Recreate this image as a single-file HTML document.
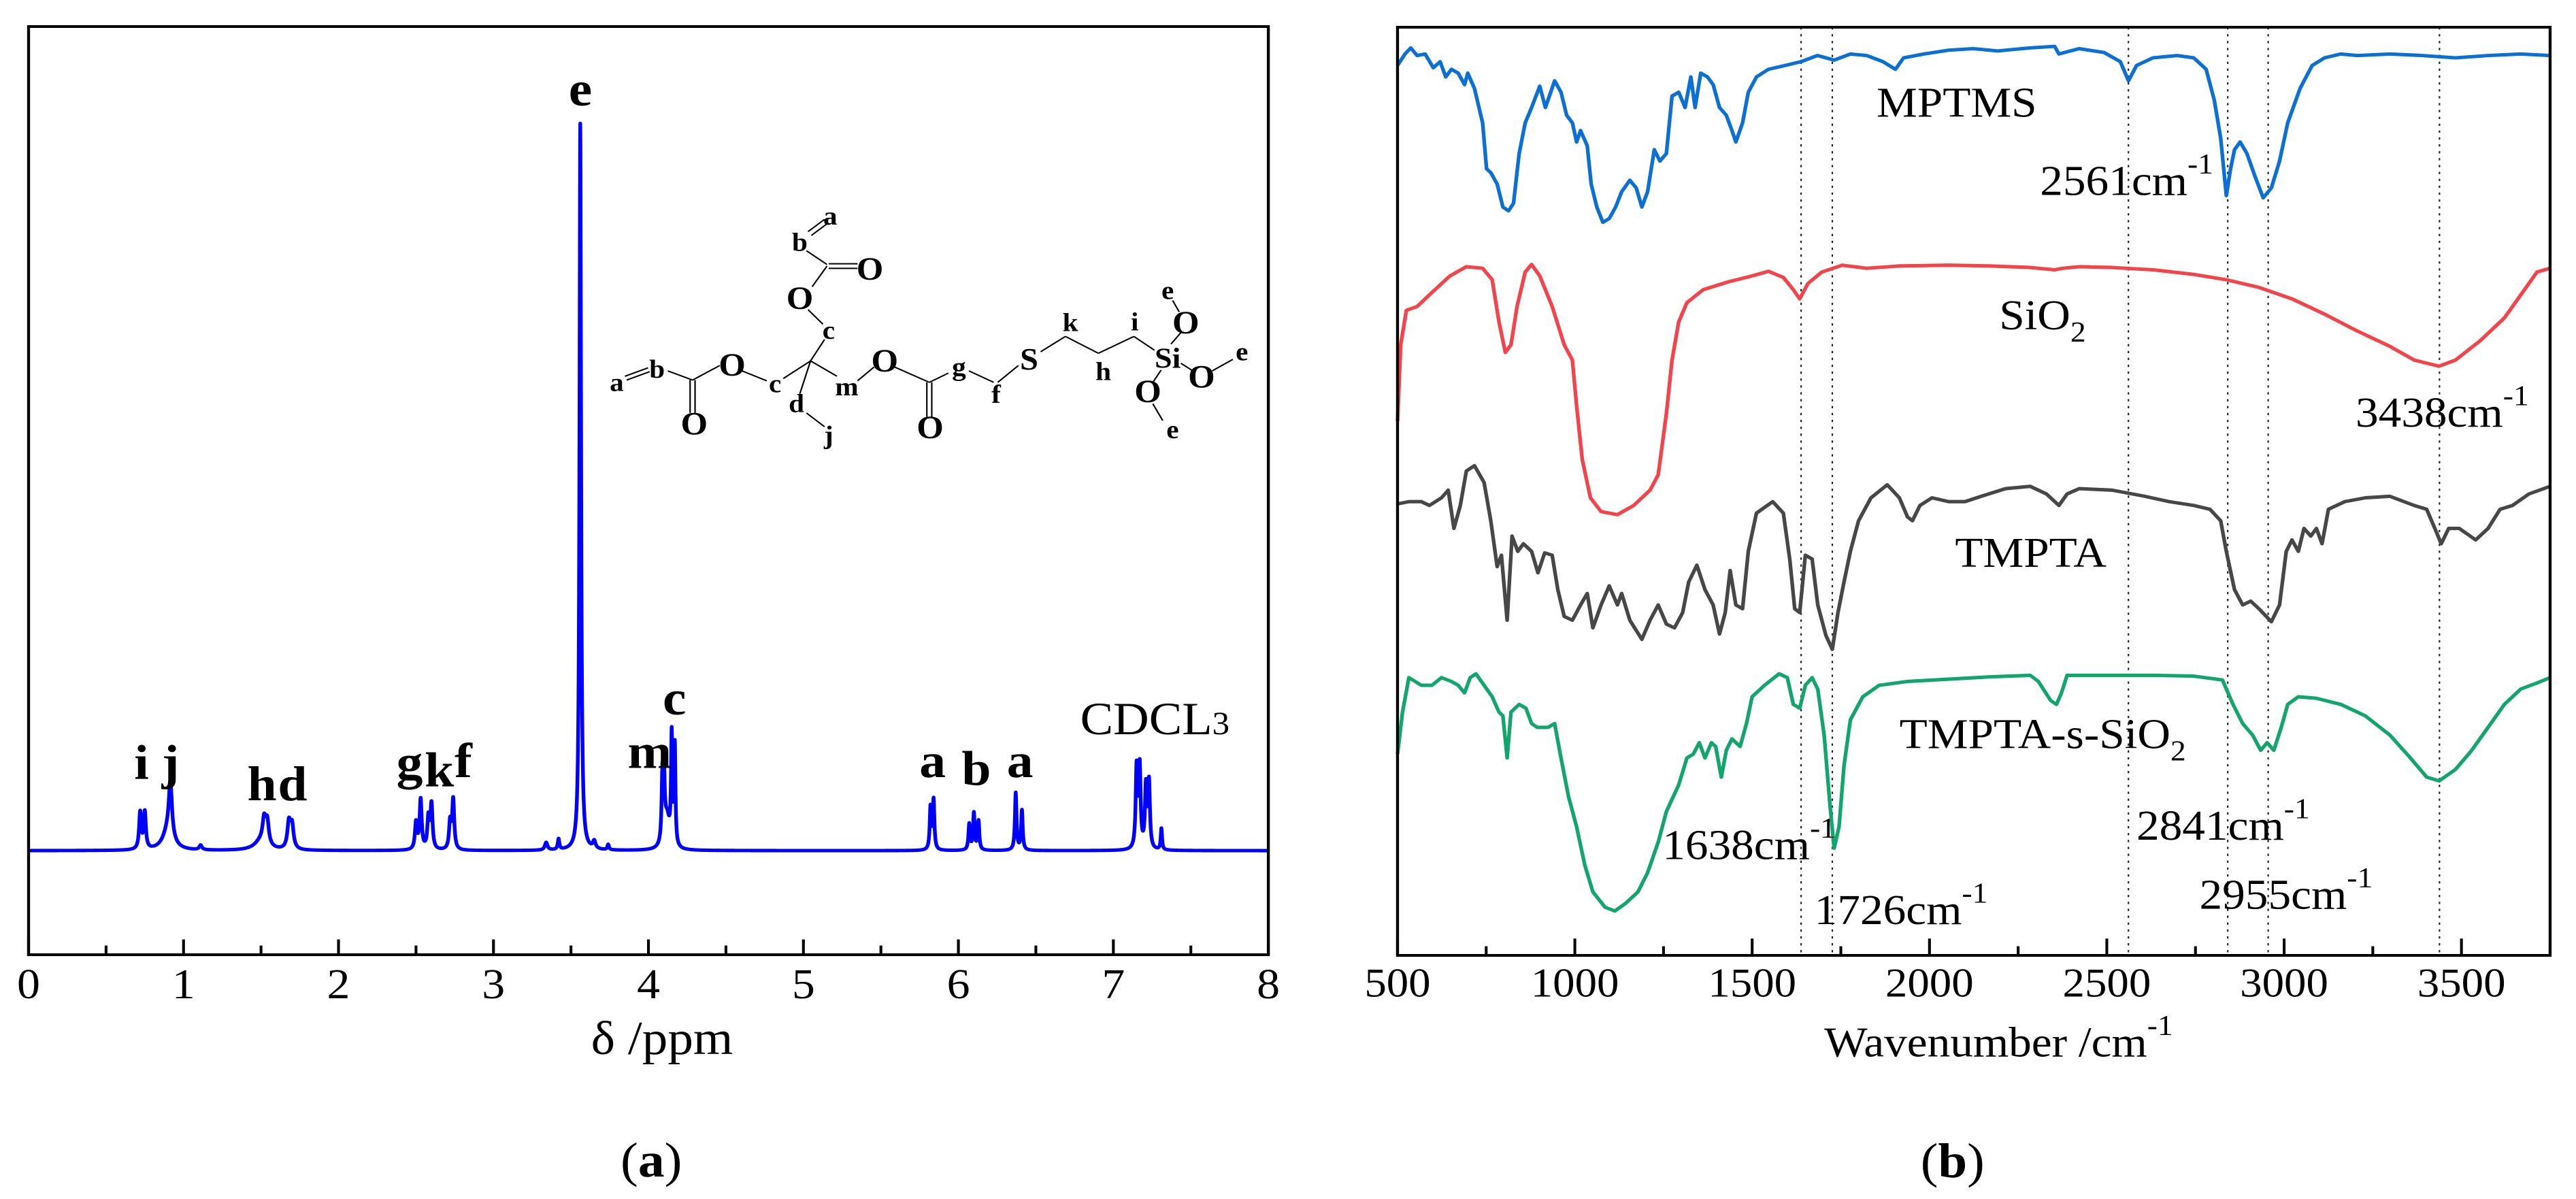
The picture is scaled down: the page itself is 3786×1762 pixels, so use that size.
<!DOCTYPE html>
<html><head><meta charset="utf-8"><title>NMR and FTIR spectra</title>
<style>
html,body{margin:0;padding:0;background:#fff;}
svg{display:block;}
text{font-family:"Liberation Serif","DejaVu Serif",serif;}
</style></head>
<body>
<svg id="fig" width="3786" height="1762" viewBox="0 0 3786 1762" xmlns="http://www.w3.org/2000/svg">
<rect width="3786" height="1762" fill="#fff"/>
<g id="left" transform="matrix(1.2123,0,0,1.1245,-0.43,-0.36)">
  <g id="nmrTicks"></g>
  <path id="nmrLine" fill="none" stroke="#0000ff" stroke-width="4.5" stroke-linejoin="round"/>
  <rect x="35" y="35" width="1503" height="1213" fill="none" stroke="#000" stroke-width="3.6"/>
  <g font-weight="bold" font-size="64" text-anchor="middle">
    <text x="704" y="138">e</text>
    <text x="172" y="1018">i</text>
    <text x="207" y="1018">j</text>
    <text x="318" y="1046">h</text>
    <text x="355" y="1046">d</text>
    <text x="497" y="1018">g</text>
    <text x="533" y="1028">k</text>
    <text x="562" y="1016">f</text>
    <text x="788" y="1004">m</text>
    <text x="818" y="934">c</text>
    <text x="1131" y="1016">a</text>
    <text x="1184" y="1026">b</text>
    <text x="1237" y="1016">a</text>
  </g>
  <text x="1310" y="960" font-size="60">CDCL<tspan font-size="42">3</tspan></text>
  <g stroke="#000" stroke-width="1.8" fill="none">
    <line x1="980" y1="303" x2="1000" y2="287"/><line x1="984" y1="308" x2="1004" y2="292"/>
    <line x1="978" y1="328" x2="1003" y2="346"/>
    <line x1="1005" y1="345" x2="1040" y2="345"/><line x1="1005" y1="351" x2="1040" y2="351"/>
    <line x1="1003" y1="348" x2="985" y2="375"/>
    <line x1="980" y1="405" x2="998" y2="424"/>
    <line x1="1000" y1="444" x2="983" y2="472"/>
    <line x1="758" y1="492" x2="786" y2="481"/><line x1="760" y1="497" x2="788" y2="486"/>
    <line x1="810" y1="485" x2="840" y2="497"/>
    <line x1="837" y1="497" x2="837" y2="540"/><line x1="843" y1="497" x2="843" y2="540"/>
    <line x1="840" y1="497" x2="873" y2="478"/>
    <line x1="900" y1="485" x2="930" y2="498"/>
    <line x1="950" y1="495" x2="983" y2="472"/>
    <line x1="983" y1="472" x2="970" y2="515"/>
    <line x1="978" y1="540" x2="1000" y2="558"/>
    <line x1="983" y1="472" x2="1015" y2="492"/>
    <line x1="1040" y1="498" x2="1060" y2="480"/>
    <line x1="1085" y1="480" x2="1127" y2="500"/>
    <line x1="1124" y1="500" x2="1124" y2="545"/><line x1="1130" y1="500" x2="1130" y2="545"/>
    <line x1="1127" y1="500" x2="1150" y2="488"/>
    <line x1="1175" y1="485" x2="1205" y2="500"/>
    <line x1="1210" y1="500" x2="1235" y2="478"/>
    <line x1="1262" y1="460" x2="1292" y2="440"/>
    <line x1="1292" y1="440" x2="1332" y2="462"/>
    <line x1="1332" y1="462" x2="1375" y2="440"/>
    <line x1="1375" y1="440" x2="1400" y2="458"/>
    <line x1="1420" y1="450" x2="1432" y2="435"/>
    <line x1="1430" y1="408" x2="1422" y2="393"/>
    <line x1="1432" y1="475" x2="1448" y2="486"/>
    <line x1="1470" y1="485" x2="1495" y2="470"/>
    <line x1="1408" y1="484" x2="1398" y2="500"/>
    <line x1="1398" y1="528" x2="1410" y2="550"/>
  </g>
  <g font-weight="bold" text-anchor="middle" font-size="34">
    <text x="1007" y="294">a</text><text x="970" y="328">b</text>
    <text x="1055" y="366" font-size="42">O</text><text x="970" y="404" font-size="42">O</text>
    <text x="1005" y="443">c</text>
    <text x="748" y="511">a</text><text x="797" y="494">b</text>
    <text x="842" y="568" font-size="42">O</text><text x="888" y="491" font-size="42">O</text>
    <text x="940" y="513">c</text><text x="966" y="539">d</text><text x="1005" y="580">j</text>
    <text x="1027" y="517">m</text><text x="1073" y="486" font-size="42">O</text>
    <text x="1128" y="573" font-size="42">O</text><text x="1163" y="491">g</text>
    <text x="1208" y="527">f</text><text x="1248" y="483" font-size="40">S</text>
    <text x="1298" y="433">k</text><text x="1338" y="497">h</text><text x="1376" y="432">i</text>
    <text x="1416" y="481" font-size="38">Si</text>
    <text x="1438" y="436" font-size="42">O</text><text x="1416" y="391">e</text>
    <text x="1457" y="507" font-size="42">O</text><text x="1506" y="471">e</text>
    <text x="1392" y="526" font-size="42">O</text><text x="1422" y="573">e</text>
  </g>
  <text x="803" y="1378" font-size="62" text-anchor="middle">δ /ppm</text>
  <text x="790" y="1538" font-size="64" text-anchor="middle">(<tspan font-weight="bold">a</tspan>)</text>
</g>

<g id="right" transform="matrix(1.2014,0,0,1.1245,1902.6,0.64)">
  <g id="irRefs"></g>
  <g id="irLines"></g>
  <g id="irTicks"></g>
  <rect x="126" y="35" width="1410" height="1213" fill="none" stroke="#000" stroke-width="3.6"/>
  <g font-size="56">
    <text x="712" y="152">MPTMS</text>
    <text x="912" y="254">2561cm<tspan font-size="38" dy="-28">-1</tspan></text>
    <text x="862" y="430">SiO<tspan font-size="38" dy="16">2</tspan></text>
    <text x="1298" y="557">3438cm<tspan font-size="38" dy="-28">-1</tspan></text>
    <text x="808" y="740">TMPTA</text>
    <text x="740" y="977">TMPTA-s-SiO<tspan font-size="38" dy="16">2</tspan></text>
    <text x="450" y="1122">1638cm<tspan font-size="38" dy="-28">-1</tspan></text>
    <text x="636" y="1207">1726cm<tspan font-size="38" dy="-28">-1</tspan></text>
    <text x="1030" y="1097">2841cm<tspan font-size="38" dy="-28">-1</tspan></text>
    <text x="1107" y="1187">2955cm<tspan font-size="38" dy="-28">-1</tspan></text>
  </g>
  <text x="648" y="1380" font-size="56">Wavenumber /cm<tspan font-size="38" dy="-28">-1</tspan></text>
  <text x="805" y="1538" font-size="64" text-anchor="middle">(<tspan font-weight="bold">b</tspan>)</text>
</g>
</svg>
<script>
// ---------- NMR data ----------
const nmrPeakPpm =   [0.72,0.75,0.915,0.90,1.11,1.52,1.54,1.50,1.68,1.70,2.50,2.53,2.58,2.60,2.72,2.74,3.34,3.42,3.56,3.65,3.74,4.09,4.10,4.12,4.15,4.17,5.82,5.84,6.07,6.10,6.13,6.37,6.41,7.15,7.17,7.21,7.23,7.31];
const nmrPeakHeight= [48,48,70,25,6,30,30,12,34,30,35,65,40,58,35,65,10,14,950,10,7,80,80,40,140,130,55,65,34,48,38,75,52,105,105,80,86,28];
const nmrPeakWidth = [0.008,0.008,0.012,0.04,0.01,0.012,0.012,0.05,0.012,0.012,0.008,0.008,0.008,0.008,0.008,0.008,0.01,0.006,0.006,0.01,0.006,0.006,0.006,0.02,0.005,0.005,0.006,0.006,0.006,0.006,0.006,0.006,0.006,0.007,0.007,0.007,0.007,0.005];
const nmrTickLabels = ["0","1","2","3","4","5","6","7","8"];
const nmrDomain = [0,8];

// ---------- FTIR data ----------
const irTickLabels = ["500","1000","1500","2000","2500","3000","3500"];
const irRefWavenumbers = [1638,1726,2561,2841,2955,3438];
const mptmsWn = [500,521,537,555,578,601,620,636,652,671,689,698,717,740,751,763,781,797,813,827,843,860,878,901,917,943,961,977,993,1005,1016,1035,1046,1062,1079,1097,1115,1132,1155,1173,1189,1205,1224,1240,1258,1274,1293,1311,1327,1339,1355,1374,1390,1408,1427,1443,1454,1473,1489,1512,1546,1593,1638,1684,1731,1777,1823,1869,1904,1927,1984,2054,2123,2192,2284,2353,2365,2422,2492,2538,2561,2584,2630,2699,2745,2780,2803,2821,2837,2849,2860,2876,2895,2918,2941,2964,2987,3010,3045,3079,3114,3160,3206,3298,3390,3483,3575,3667,3750];
const mptmsT = [1163,1178,1186,1176,1178,1160,1168,1148,1158,1153,1138,1153,1133,1088,1028,1023,1008,978,973,983,1048,1088,1108,1136,1108,1143,1128,1098,1088,1063,1078,1058,1008,978,958,963,978,998,1013,1003,978,998,1053,1038,1048,1123,1128,1108,1148,1108,1153,1148,1138,1108,1098,1078,1063,1088,1128,1148,1158,1163,1168,1176,1170,1178,1176,1168,1158,1173,1178,1183,1185,1182,1186,1188,1178,1185,1180,1168,1143,1163,1173,1176,1173,1158,1118,1068,993,1028,1053,1063,1048,1018,990,1003,1038,1088,1133,1163,1173,1178,1176,1178,1176,1173,1176,1178,1176];
const sio2Wn = [500,509,525,555,601,648,694,740,767,786,804,820,837,860,878,901,936,970,993,1005,1021,1044,1074,1120,1166,1212,1235,1258,1274,1293,1316,1362,1431,1500,1546,1588,1616,1634,1657,1696,1754,1823,1915,2054,2169,2284,2353,2376,2422,2515,2630,2745,2837,2929,3022,3114,3206,3298,3367,3437,3483,3552,3621,3667,3713,3750];
const sio2T = [698,798,843,848,868,888,900,898,883,828,788,798,848,893,903,888,848,798,778,718,648,598,580,576,588,608,628,708,778,828,853,870,880,888,894,886,870,858,878,893,902,898,901,902,901,899,896,898,900,899,896,890,883,873,858,838,816,796,778,770,778,803,833,863,893,898];
const tmptaWn = [500,532,567,590,624,643,659,677,694,717,744,763,781,793,809,823,839,855,878,896,915,936,952,970,993,1016,1035,1051,1074,1097,1120,1132,1155,1189,1212,1235,1258,1281,1304,1321,1344,1367,1390,1408,1424,1438,1454,1473,1489,1512,1558,1588,1606,1620,1634,1650,1669,1685,1708,1726,1742,1759,1777,1800,1835,1881,1915,1938,1952,1973,2007,2054,2100,2146,2215,2284,2330,2365,2388,2422,2515,2607,2676,2745,2791,2821,2837,2860,2883,2906,2929,2964,2987,3006,3022,3040,3056,3075,3091,3107,3125,3171,3229,3298,3367,3402,3425,3443,3464,3494,3540,3575,3609,3644,3690,3750];
const tmptaT = [590,593,593,588,598,608,558,588,633,640,618,568,508,523,438,548,528,538,528,500,526,523,478,443,438,458,473,428,458,483,458,473,438,413,438,458,433,428,448,488,510,478,458,420,448,503,458,453,528,578,593,578,518,453,448,523,518,458,418,400,448,488,528,568,598,615,598,573,568,588,598,593,593,600,610,613,603,588,603,610,608,600,593,588,583,568,528,478,458,463,453,436,458,528,543,528,558,548,558,538,583,593,598,600,588,583,558,538,558,558,543,558,583,588,603,613];
const compWn = [500,514,532,567,597,624,652,671,689,705,721,744,767,786,797,809,820,843,862,878,894,924,943,959,982,1005,1028,1051,1085,1113,1143,1178,1205,1235,1258,1293,1316,1334,1351,1367,1385,1397,1413,1427,1443,1466,1484,1500,1535,1576,1599,1616,1634,1650,1669,1685,1703,1719,1731,1745,1759,1777,1812,1858,1938,2054,2169,2284,2307,2342,2358,2372,2388,2515,2630,2745,2826,2856,2883,2911,2934,2952,2971,2992,3010,3040,3091,3160,3229,3298,3356,3402,3437,3483,3529,3575,3621,3667,3713,3750];
const compT = [263,318,363,353,353,363,358,353,343,363,368,353,338,318,313,258,318,328,323,303,298,298,303,263,208,168,118,83,63,58,68,83,108,148,188,223,258,263,278,258,278,273,233,268,283,273,303,338,353,368,363,328,323,353,363,348,288,198,140,168,248,308,338,353,358,361,364,366,358,333,328,343,366,366,366,365,360,328,303,288,268,278,268,298,328,338,336,328,313,288,258,233,228,243,268,298,328,348,356,363];
const irSeriesNames = ["mptms","sio2","tmpta","tmpta-s-sio2"];
const irSeriesColors = ["#0b6fd4","#f2444a","#474747","#12a56c"];
const irDomain = [500,3750];

const NS="http://www.w3.org/2000/svg";
function mk(tag,attrs,parent){const e=document.createElementNS(NS,tag);for(const k in attrs)e.setAttribute(k,attrs[k]);parent.appendChild(e);return e;}

// NMR axes
const nxL=35,nxR=1538,nyBase=1112,nyBottom=1248;
function nmrX(p){return nxL+(p-nmrDomain[0])/(nmrDomain[1]-nmrDomain[0])*(nxR-nxL);}
function nmrY(h){return nyBase-h;}
let d="";
for(let i=0;i<=8000;i++){
  const p=nmrDomain[0]+i*(nmrDomain[1]-nmrDomain[0])/8000;
  let s=0;
  for(let k=0;k<nmrPeakPpm.length;k++){const w=nmrPeakWidth[k],dx=p-nmrPeakPpm[k];s+=nmrPeakHeight[k]*w*w/(dx*dx+w*w);}
  d+=(i?"L":"M")+nmrX(p).toFixed(2)+" "+nmrY(s).toFixed(2);
}
document.getElementById('nmrLine').setAttribute('d',d);
const nt=document.getElementById('nmrTicks');
for(let i=0;i<=16;i++){
  const v=nmrDomain[0]+i*0.5, x=nmrX(v), major=i%2===0;
  const t=mk('line',{x1:x,x2:x,y1:nyBottom,y2:nyBottom-(major?20:12),stroke:'#000','stroke-width':3.4},nt);
  
  
  if(major){
    const lb=mk('text',{x:x,y:1305,'font-size':56,'text-anchor':'middle'},nt);
    lb.textContent=nmrTickLabels[i/2];
    
    
  }
}

// FTIR axes
const ixL=126,ixR=1536,iyTop=35,iyBottom=1248;
function irX(w){return ixL+(w-irDomain[0])/(irDomain[1]-irDomain[0])*(ixR-ixL);}
function irY(t){return iyBottom-t;}
const refs=document.getElementById('irRefs');
irRefWavenumbers.forEach(w=>{
  const l=mk('line',{x1:irX(w),x2:irX(w),y1:iyTop,y2:iyBottom,stroke:'#222','stroke-width':1.8,'stroke-dasharray':'3 6'},refs);
  
  
});
const wnSets=[mptmsWn,sio2Wn,tmptaWn,compWn], tSets=[mptmsT,sio2T,tmptaT,compT];
const lines=document.getElementById('irLines');
for(let s=0;s<4;s++){
  let p="";
  for(let i=0;i<wnSets[s].length;i++)p+=(i?"L":"M")+irX(wnSets[s][i]).toFixed(1)+" "+irY(tSets[s][i]).toFixed(1);
  const path=mk('path',{d:p,fill:'none',stroke:irSeriesColors[s],'stroke-width':4.5,'stroke-linejoin':'round'},lines);
  
  
}
const it=document.getElementById('irTicks');
for(let v=500;v<=3750;v+=250){
  const x=irX(v), major=v%500===0;
  const t=mk('line',{x1:x,x2:x,y1:iyBottom,y2:iyBottom-(major?22:12),stroke:'#000','stroke-width':3.4},it);
  
  
  if(major){
    const lb=mk('text',{x:x,y:1302,'font-size':54,'text-anchor':'middle'},it);
    lb.textContent=irTickLabels[(v-500)/500];
    
    
  }
}
</script>
</body></html>
